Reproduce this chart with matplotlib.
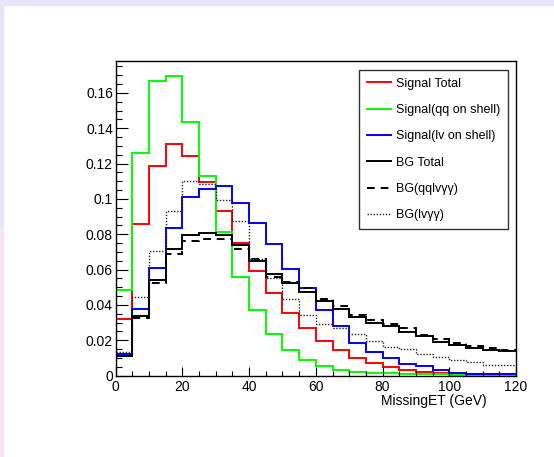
import numpy as np
import matplotlib
matplotlib.use("Agg")
import matplotlib.pyplot as plt
from matplotlib.lines import Line2D
from matplotlib.patches import Rectangle
from matplotlib.ticker import MultipleLocator, FixedLocator

plt.rcParams['font.family'] = ['Liberation Sans', 'DejaVu Sans']

# MissingET bins, 5 GeV wide, 0-120 GeV
edges = np.arange(0, 125, 5)

sig_total = [0.0318, 0.0858, 0.1188, 0.1309, 0.1243, 0.1096, 0.0933, 0.0752,
             0.0594, 0.0467, 0.0354, 0.0271, 0.0197, 0.0147, 0.0101, 0.0069,
             0.0048, 0.0031, 0.0022, 0.0012, 0.0010, 0.0008, 0.0007, 0.0006]
sig_qq = [0.0484, 0.1258, 0.1670, 0.1695, 0.1437, 0.1130, 0.0813, 0.0560,
          0.0371, 0.0237, 0.0144, 0.0086, 0.0054, 0.0032, 0.0022, 0.0016,
          0.0012, 0.0010, 0.0008, 0.0006, 0.0005, 0.0004, 0.0003, 0.0003]
sig_lv = [0.0120, 0.0375, 0.0610, 0.0837, 0.1009, 0.1054, 0.1075, 0.0979,
          0.0864, 0.0743, 0.0605, 0.0494, 0.0373, 0.0281, 0.0186, 0.0133,
          0.0097, 0.0065, 0.0052, 0.0029, 0.0016, 0.0010, 0.0008, 0.0007]
bg_total = [0.0112, 0.0339, 0.0541, 0.0716, 0.0794, 0.0809, 0.0796, 0.0737,
            0.0647, 0.0577, 0.0522, 0.0473, 0.0420, 0.0379, 0.0332, 0.0298,
            0.0278, 0.0249, 0.0224, 0.0189, 0.0172, 0.0157, 0.0146, 0.0138]
bg_qqlv = [0.0110, 0.0327, 0.0522, 0.0690, 0.0762, 0.0773, 0.0771, 0.0718,
           0.0660, 0.0560, 0.0531, 0.0494, 0.0431, 0.0392, 0.0341, 0.0314,
           0.0292, 0.0267, 0.0229, 0.0205, 0.0186, 0.0169, 0.0156, 0.0146]
bg_lv = [0.0133, 0.0445, 0.0705, 0.0932, 0.1103, 0.1084, 0.0992, 0.0875,
         0.0660, 0.0554, 0.0435, 0.0343, 0.0292, 0.0267, 0.0233, 0.0197,
         0.0160, 0.0152, 0.0120, 0.0105, 0.0088, 0.0076, 0.0061, 0.0061]

labels = ["Signal Total", "Signal(qq on shell)", "Signal(lv on shell)",
          "BG Total", "BG(qqlv\u03b3\u03b3)", "BG(lv\u03b3\u03b3)"]
ytick_vals = [0, 0.02, 0.04, 0.06, 0.08, 0.1, 0.12, 0.14, 0.16]
ytick_labels = ["0", "0.02", "0.04", "0.06", "0.08", "0.1", "0.12", "0.14", "0.16"]

W, H = 554, 457
fig = plt.figure(figsize=(W / 100, H / 100), dpi=100)
fig.patch.set_facecolor("white")

# lavender window border from the screenshot
fig.patches.append(Rectangle((0, 1 - 5 / H), 1, 5 / H, transform=fig.transFigure,
                             color="#e8e4fa", zorder=0))
fig.patches.append(Rectangle((0, 0.5), 3 / W, 0.5, transform=fig.transFigure,
                             color="#e8e4fa", zorder=0))
fig.patches.append(Rectangle((0, 0), 3 / W, 0.5, transform=fig.transFigure,
                             color="#f6e4ee", zorder=0))

x0, x1 = 115.7, 516.0
y0, y1 = 375.5, 60.7
ax = fig.add_axes([x0 / W, 1 - y0 / H, (x1 - x0) / W, (y0 - y1) / H])

styles = [
    dict(color="#ff0000", lw=1.4),
    dict(color="#00ff00", lw=1.4),
    dict(color="#0000ff", lw=1.4),
    dict(color="black", lw=1.4),
    dict(color="black", lw=1.4, linestyle=(0, (4, 3))),
    dict(color="#222222", lw=1.0, linestyle=(0, (1, 1.2))),
]
series = [sig_total, sig_qq, sig_lv, bg_total, bg_qqlv, bg_lv]
for vals, st in zip(series, styles):
    ax.stairs(vals, edges, baseline=None, **st)

ax.set_xlim(0, 120)
ax.set_ylim(0, (y0 - y1) / 1766)

ax.xaxis.set_major_locator(MultipleLocator(20))
ax.xaxis.set_minor_locator(MultipleLocator(5))
ax.yaxis.set_major_locator(FixedLocator(ytick_vals))
ax.set_yticklabels(ytick_labels)
ax.yaxis.set_minor_locator(MultipleLocator(0.005))
ax.tick_params(axis="both", which="both", direction="in", labelsize=10,
               width=0.8, top=False, right=False)
ax.tick_params(axis="x", which="major", length=6.8, pad=3.5)
ax.tick_params(axis="x", which="minor", length=3.4)
ax.tick_params(axis="y", which="major", length=8.6, pad=2)
ax.tick_params(axis="y", which="minor", length=4.3)
for sp in ax.spines.values():
    sp.set_linewidth(1.0)

fig.text(487 / W, 1 - 401 / H, "MissingET (GeV)", ha="right", va="center",
         fontsize=10)

handles = [Line2D([], [], **st) for st in styles]
leg = ax.legend(handles, labels, loc="upper left",
                bbox_to_anchor=(359.3 / W, 1 - 70 / H),
                bbox_transform=fig.transFigure, fontsize=9, frameon=True,
                fancybox=False, edgecolor="black", borderaxespad=0,
                handlelength=1.9, handletextpad=0.45, labelspacing=1.15,
                borderpad=0.6)
leg.get_frame().set_linewidth(1.0)

fig.savefig("out.png", dpi=100)
